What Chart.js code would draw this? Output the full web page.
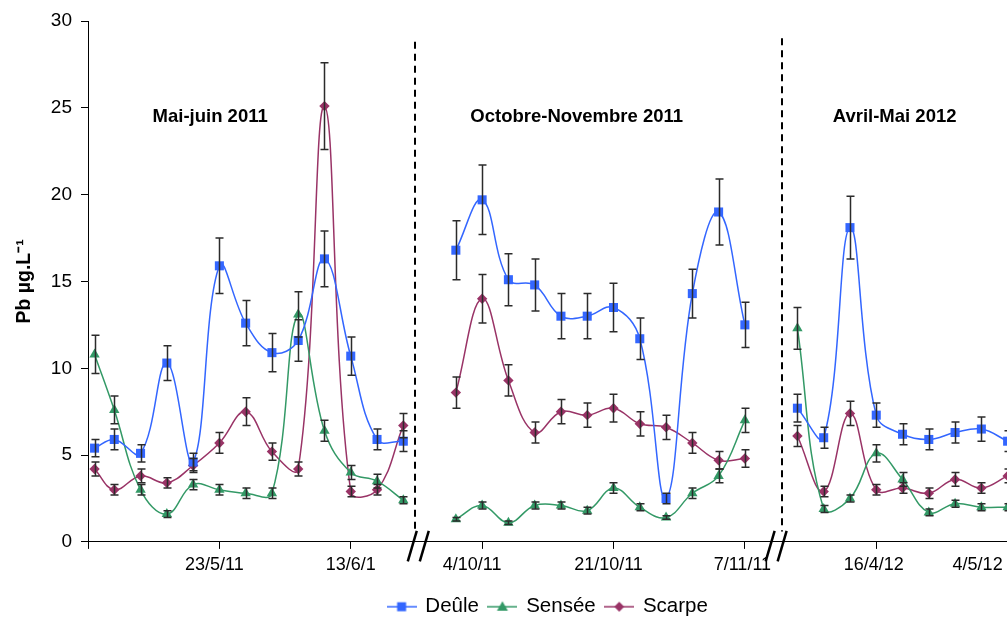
<!DOCTYPE html>
<html>
<head>
<meta charset="utf-8">
<script src="https://cdn.jsdelivr.net/npm/chart.js@4.4.1/dist/chart.umd.min.js"></script>
<style>
  html, body { margin: 0; padding: 0; background: #fff; overflow: hidden; width: 1007px; height: 618px; }
  #wrap { width: 1096px; height: 618px; }
</style>
</head>
<body>
<div id="wrap"><canvas id="c" width="1096" height="618"></canvas></div>
<script>
// ---- data ----
// sample position along the broken axis (one unit per sampling date; gaps at 13 and 26)
const samplePos = [0.25,1,2,3,4,5,6,7,8,9,10,11,12, 13, 14,15,16,17,18,19,20,21,22,23,24,25, 26, 27,28,29,30,31,32,33,34,35];

const deule  = [5.4,5.9,5.1,10.3,4.6,15.9,12.6,10.9,11.6,16.3,10.7,5.9,5.8, null,
                16.8,19.7,15.1,14.8,13.0,13.0,13.5,11.7,2.5,14.3,19.0,12.5, null,
                7.7,6.0,18.1,7.3,6.2,5.9,6.3,6.5,5.8];
const sensee = [10.8,7.6,3.0,1.6,3.3,3.0,2.8,2.8,13.1,6.4,4.0,3.5,2.4, null,
                1.3,2.1,1.1,2.1,2.1,1.8,3.1,2.0,1.4,2.8,3.8,7.0, null,
                12.3,1.9,2.5,5.1,3.6,1.7,2.2,2.0,2.0];
const scarpe = [4.2,3.0,3.8,3.4,4.4,5.7,7.5,5.2,4.2,25.1,2.9,3.0,6.7, null,
                8.6,14.0,9.3,6.3,7.5,7.3,7.7,6.8,6.6,5.7,4.7,4.8, null,
                6.1,2.9,7.4,3.0,3.1,2.8,3.6,3.1,3.8];

const deuleErr  = [0.5,0.6,0.5,1.0,0.5,1.6,1.3,1.1,1.2,1.6,1.1,0.6,0.6, null,
                   1.7,2.0,1.5,1.5,1.3,1.3,1.4,1.2,0.3,1.4,1.9,1.3, null,
                   0.8,0.6,1.8,0.7,0.6,0.6,0.6,0.7,0.6];
const senseeErr = [1.1,0.8,0.3,0.2,0.3,0.3,0.3,0.3,1.3,0.6,0.4,0.4,0.2, null,
                   0.1,0.2,0.1,0.2,0.2,0.2,0.3,0.2,0.1,0.3,0.4,0.7, null,
                   1.2,0.2,0.2,0.5,0.4,0.2,0.2,0.2,0.2];
const scarpeErr = [0.4,0.3,0.4,0.3,0.4,0.6,0.8,0.5,0.4,2.5,0.3,0.3,0.7, null,
                   0.9,1.4,0.9,0.6,0.7,0.7,0.8,0.7,0.7,0.6,0.5,0.5, null,
                   0.6,0.3,0.7,0.3,0.3,0.3,0.4,0.3,0.4];

// x tick labels at positions 0,5,10,...,35 (trailing spaces reproduce the original's label placement)
const tickLabels = ['', '23/5/11  ', '13/6/1', '4/10/11    ', '21/10/11  ', '7/11/11 ', '16/4/12 ', '4/5/12            '];
const yTicks = [0, 5, 10, 15, 20, 25, 30];

// campaigns
const campaignNames = ['Mai-juin 2011', 'Octobre-Novembre 2011', 'Avril-Mai 2012'];
const campaignCenters = [4.65, 18.6, 30.7];
const campaignLabelY = 24.45;
const dashPos = [12.46, 26.4];
const breakPos = [12.57, 26.19];

const seriesNames = ['Deûle', 'Sensée', 'Scarpe'];
const colors = ['#3366FF', '#339966', '#993366'];

// ---- helpers ----
const FONT = '"Liberation Sans", Arial, sans-serif';
function pts(vals) { return samplePos.map((x, i) => ({ x: x, y: vals[i] })); }

function legendIcon(color, style) {
  const c = document.createElement('canvas');
  c.width = 30; c.height = 14;
  const g = c.getContext('2d');
  g.strokeStyle = color; g.lineWidth = 1.5;
  g.beginPath(); g.moveTo(0, 7); g.lineTo(30, 7); g.stroke();
  g.fillStyle = color;
  g.beginPath();
  if (style === 'rect') { g.rect(10.5, 2.5, 9, 9); }
  else if (style === 'triangle') { g.moveTo(15, 1.5); g.lineTo(20.5, 11); g.lineTo(9.5, 11); g.closePath(); }
  else { g.moveTo(15, 2); g.lineTo(20, 7); g.lineTo(15, 12); g.lineTo(10, 7); g.closePath(); }
  g.fill();
  return c;
}
const pointStyles = ['rect', 'triangle', 'rectRot'];
const icons = pointStyles.map((s, i) => legendIcon(colors[i], s));

const errs = [deuleErr, senseeErr, scarpeErr];

const decor = {
  id: 'decor',
  afterDatasetsDraw(chart) {
    const ctx = chart.ctx, ys = chart.scales.y;
    ctx.save();
    ctx.strokeStyle = '#2b2b2b';
    ctx.lineWidth = 1.5;
    chart.data.datasets.forEach((ds, di) => {
      const meta = chart.getDatasetMeta(di);
      const e = errs[di];
      meta.data.forEach((p, i) => {
        const v = ds.data[i].y;
        if (v === null || e[i] === null) return;
        const x = Math.round(p.x) + 0.5;
        const yTop = ys.getPixelForValue(v + e[i]);
        const yBot = ys.getPixelForValue(v - e[i]);
        ctx.beginPath();
        ctx.moveTo(x, yTop); ctx.lineTo(x, yBot);
        ctx.moveTo(x - 4, yTop); ctx.lineTo(x + 4, yTop);
        ctx.moveTo(x - 4, yBot); ctx.lineTo(x + 4, yBot);
        ctx.stroke();
      });
    });
    ctx.restore();
  },
  afterDraw(chart) {
    const ctx = chart.ctx, xs = chart.scales.x, ys = chart.scales.y;
    const area = chart.chartArea;
    ctx.save();
    // dashed separators
    ctx.strokeStyle = '#000';
    ctx.lineWidth = 2;
    ctx.setLineDash([7, 5]);
    dashPos.forEach((v, k) => {
      const x = Math.round(xs.getPixelForValue(v));
      ctx.beginPath();
      ctx.moveTo(x, ys.getPixelForValue(k === 0 ? 28.8 : 29.0));
      ctx.lineTo(x, ys.getPixelForValue(0.6));
      ctx.stroke();
    });
    ctx.setLineDash([]);
    // axis break marks
    ctx.lineWidth = 2.5;
    breakPos.forEach(v => {
      const cx = xs.getPixelForValue(v), y0 = area.bottom;
      [-6, 6].forEach(d => {
        ctx.beginPath();
        ctx.moveTo(cx + d + 4.5, y0 - 11);
        ctx.lineTo(cx + d - 4.5, y0 + 19.5);
        ctx.stroke();
      });
    });
    // campaign titles
    ctx.fillStyle = '#000';
    ctx.font = 'bold 18.5px ' + FONT;
    ctx.textAlign = 'center';
    ctx.textBaseline = 'middle';
    campaignNames.forEach((t, i) => {
      ctx.fillText(t, xs.getPixelForValue(campaignCenters[i]), ys.getPixelForValue(campaignLabelY));
    });
    ctx.restore();
  }
};

const datasets = [deule, sensee, scarpe].map((vals, i) => ({
  label: seriesNames[i],
  data: pts(vals),
  borderColor: colors[i],
  backgroundColor: colors[i],
  borderWidth: 1.5,
  pointStyle: pointStyles[i],
  pointRadius: i === 0 ? 6.4 : (i === 1 ? 6 : 5.2),
  pointBorderWidth: 0,
  tension: 0.4,
  spanGaps: false,
  clip: false
}));

new Chart(document.getElementById('c'), {
  type: 'line',
  data: { datasets },
  options: {
    responsive: false,
    animation: false,
    layout: { padding: { left: 0, right: 0, top: 21, bottom: -9 } },
    plugins: {
      legend: {
        position: 'bottom',
        labels: {
          usePointStyle: true,
          pointStyleWidth: 27,
          padding: 10,
          color: '#000',
          font: { family: FONT, size: 20.5 },
          generateLabels(chart) {
            return chart.data.datasets.map((ds, i) => ({
              text: ds.label, pointStyle: icons[i], fillStyle: colors[i],
              strokeStyle: colors[i], lineWidth: 0, hidden: false, datasetIndex: i, fontColor: '#000'
            }));
          }
        }
      },
      tooltip: { enabled: false }
    },
    scales: {
      x: {
        type: 'linear',
        min: 0, max: 38.12,
        afterFit(s) { s.paddingLeft = 0; s.paddingRight = 0; s.height += 6; },
        ticks: {
          stepSize: 5, includeBounds: false, autoSkip: false, maxRotation: 0,
          padding: 5, color: '#000', font: { family: FONT, size: 18 },
          callback: (v) => { const k = Math.round(v / 5); return (v % 5 === 0 && k < tickLabels.length) ? tickLabels[k] : ''; }
        },
        grid: { drawOnChartArea: false, drawTicks: true, tickLength: 7, color: '#000', lineWidth: 1 },
        border: { color: '#000', width: 1 }
      },
      y: {
        min: 0, max: 30,
        afterFit(s) { s.width = 88; },
        ticks: {
          stepSize: 5, padding: 9, color: '#000', font: { family: FONT, size: 19 },
          callback: (v) => yTicks.includes(v) ? String(v) : ''
        },
        grid: { drawOnChartArea: false, drawTicks: true, tickLength: 7, color: '#000', lineWidth: 1 },
        border: { color: '#000', width: 1 },
        title: {
          display: true, text: 'Pb µg.L⁻¹', color: '#000',
          font: { family: FONT, size: 19.5, weight: 'bold' },
          padding: { top: 13, bottom: 0 }
        }
      }
    }
  },
  plugins: [decor]
});
</script>
</body>
</html>
